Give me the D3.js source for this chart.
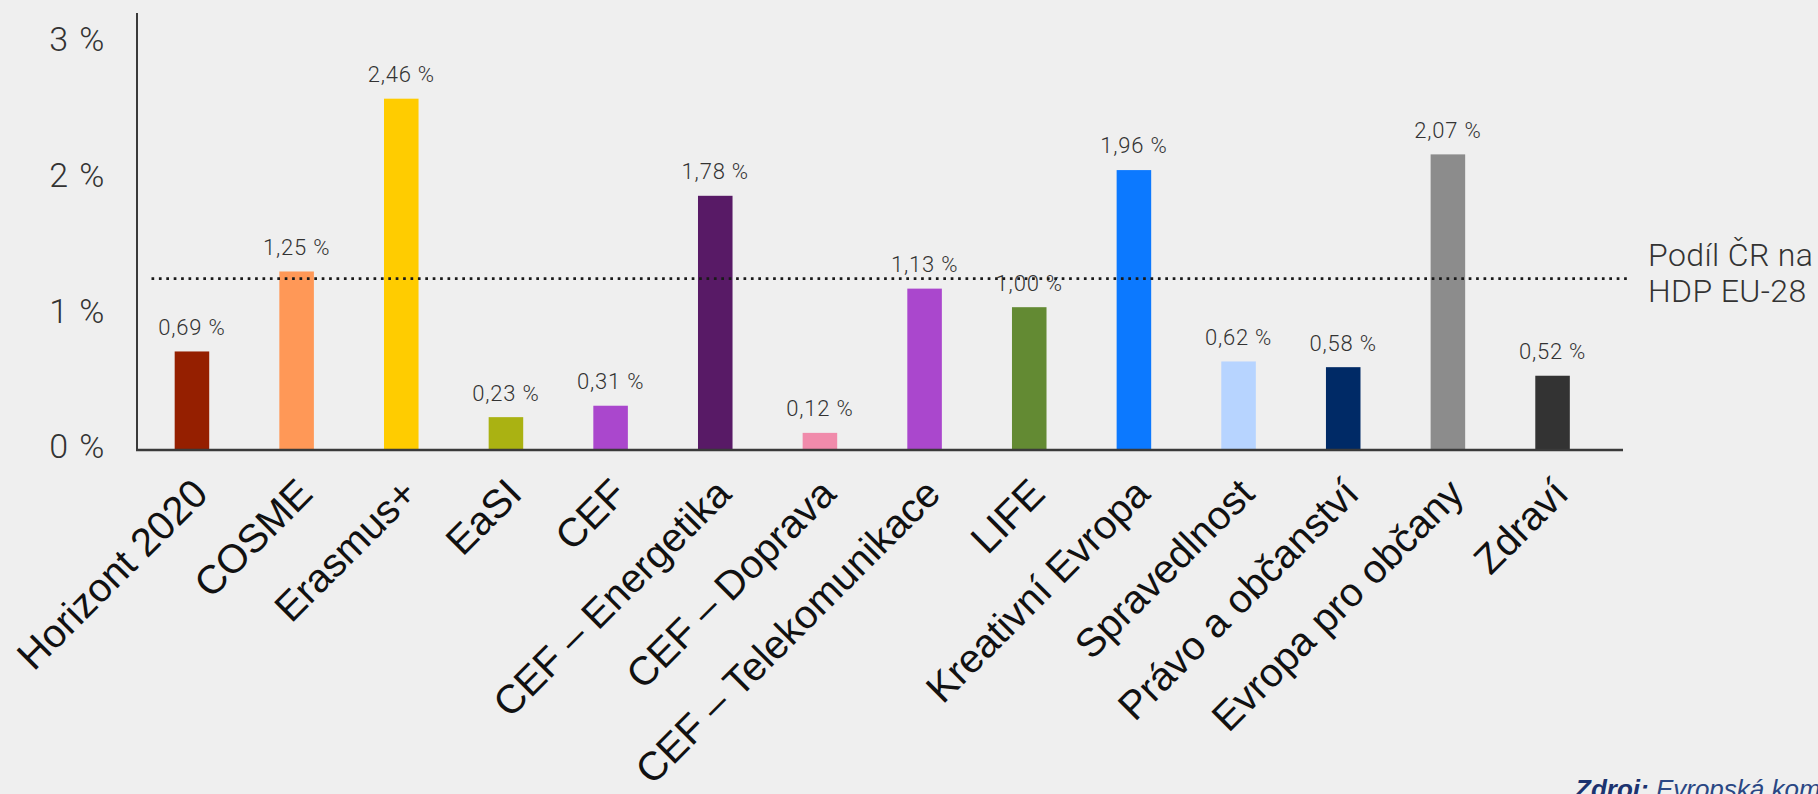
<!DOCTYPE html>
<html>
<head>
<meta charset="utf-8">
<script src="https://cdn.jsdelivr.net/npm/d3@7"></script>
<style>
  html, body { margin: 0; padding: 0; background: #efefef; overflow: hidden; }
  svg { display: block; }
</style>
</head>
<body>
<svg id="chart" width="1818" height="794"></svg>
<script>
// ---- data ----
const categories = ["Horizont 2020", "COSME", "Erasmus+", "EaSI", "CEF", "CEF – Energetika", "CEF – Doprava", "CEF – Telekomunikace", "LIFE", "Kreativní Evropa", "Spravedlnost", "Právo a občanství", "Evropa pro občany", "Zdraví"];
const values = [0.69, 1.25, 2.46, 0.23, 0.31, 1.78, 0.12, 1.13, 1.00, 1.96, 0.62, 0.58, 2.07, 0.52];
const colors = ["#951f00", "#ff9857", "#ffcc00", "#aab212", "#aa47cd", "#581a66", "#f08bab", "#aa47cd", "#638a33", "#0c79ff", "#b7d4ff", "#002a66", "#8c8c8c", "#333333"];
const tickValues = [0, 1, 2, 3];
const tickLabels = ["0 %", "1 %", "2 %", "3 %"];
const refValue = 1.2;
const refLabel = ["Podíl ČR na", "HDP EU-28"];
const sourceBold = "Zdroj:";
const sourceText = " Evropská komise";

// ---- layout ----
const svg = d3.select("#chart");
const baseY = 450, topY = 13, axisX = 137, axisEnd = 1623;

const y = d3.scaleLinear().domain([0, 3.06]).range([baseY, topY]);
const yLabels = d3.scaleLinear().domain([0, 3]).range([447, 40]);
const x = d3.scaleBand().domain(categories).range([137, 1607.5]).paddingInner(0.67).paddingOuter(0.36);

const lightFont = "Roboto, 'Helvetica Neue', sans-serif";
const regFont = "'Liberation Sans', Arial, sans-serif";

// y tick labels
const yAxis = d3.axisLeft(yLabels).tickValues(tickValues).tickFormat((d, i) => tickLabels[i]).tickSize(0).tickPadding(31);
const ya = svg.append("g").attr("transform", `translate(${axisX},0)`).call(yAxis);
ya.select(".domain").remove();
ya.selectAll("text").attr("font-family", lightFont).attr("font-weight", 300).attr("font-size", 34)
  .attr("letter-spacing", 1.5).attr("fill", "#333");

// bars
svg.append("g").selectAll("rect").data(values).join("rect")
  .attr("x", (d, i) => x(categories[i]))
  .attr("y", d => y(d))
  .attr("width", x.bandwidth())
  .attr("height", d => baseY - y(d))
  .attr("fill", (d, i) => colors[i]);

// value labels
svg.append("g").selectAll("text").data(values).join("text")
  .attr("x", (d, i) => x(categories[i]) + x.bandwidth() / 2)
  .attr("y", d => y(d) - 16.6)
  .attr("text-anchor", "middle")
  .attr("font-family", lightFont).attr("font-weight", 300).attr("font-size", 22)
  .attr("letter-spacing", 0.8).attr("fill", "#333")
  .text(d => d.toFixed(2).replace(".", ",") + " %");

// axes lines
svg.append("line").attr("x1", axisX).attr("x2", axisX).attr("y1", topY).attr("y2", baseY)
  .attr("stroke", "#3a3a3a").attr("stroke-width", 2);
svg.append("line").attr("x1", axisX - 1).attr("x2", axisEnd).attr("y1", baseY).attr("y2", baseY)
  .attr("stroke", "#3a3a3a").attr("stroke-width", 2.5);

// category labels
svg.append("g").selectAll("text").data(categories).join("text")
  .attr("transform", d => `translate(${x(d) + x.bandwidth() / 2 + 18},${baseY + 46}) rotate(-45)`)
  .attr("text-anchor", "end")
  .attr("font-family", regFont).attr("font-size", 40).attr("fill", "#111")
  .text(d => d);

// reference line
const ry = y(refValue);
svg.append("line").attr("x1", 151.5).attr("x2", 1630).attr("y1", ry).attr("y2", ry)
  .attr("stroke", "#1a1a1a").attr("stroke-width", 2.7).attr("stroke-dasharray", "2.7,4.7");
const rt = svg.append("text").attr("x", 1648).attr("y", ry - 13)
  .attr("font-family", lightFont).attr("font-weight", 300).attr("font-size", 32)
  .attr("letter-spacing", 0.4).attr("fill", "#333");
rt.selectAll("tspan").data(refLabel).join("tspan")
  .attr("x", 1648).attr("dy", (d, i) => i === 0 ? 0 : 36.7).text(d => d);

// source
const st = svg.append("text").attr("x", 1575).attr("y", 798)
  .attr("font-family", regFont).attr("font-size", 26).attr("font-style", "italic").attr("fill", "#2a4784");
st.append("tspan").attr("font-weight", "bold").attr("fill", "#1c3370").text(sourceBold);
st.append("tspan").text(sourceText);
</script>
</body>
</html>
